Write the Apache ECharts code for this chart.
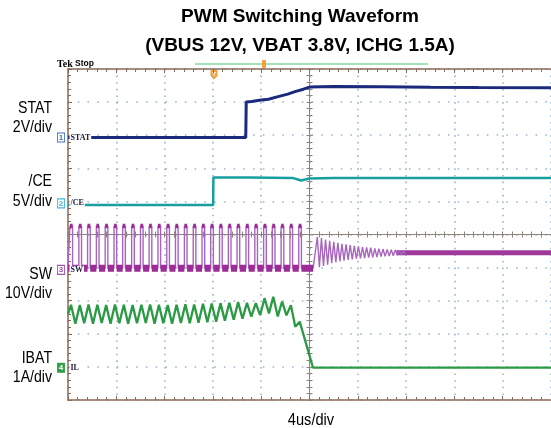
<!DOCTYPE html>
<html>
<head>
<meta charset="utf-8">
<script src="https://cdn.jsdelivr.net/npm/echarts/dist/echarts.min.js"></script>
<style>html,body{margin:0;padding:0;background:#fff}#c{width:551px;height:428px}</style>
</head>
<body>
<div id="c"></div>
<script>
// ---- Channel scales (ground position in divisions from bottom, units per division) ----
const channelGroundDiv = [7.93, 5.94, 3.93, 0.976];   // STAT, /CE, SW, IBAT
const channelPerDiv = [2, 5, 10, 1];                  // 2V, 5V, 10V, 1A per div

// ---- STAT (V) ----
const statTimes = [0, 14.72, 14.76, 15.2, 16.0, 16.6, 17.4, 18.2, 18.8, 19.5, 20.0, 22, 26, 30, 34, 40];
const statVolts = [0, 0, 2.14, 2.18, 2.27, 2.31, 2.47, 2.62, 2.77, 2.92, 3.05, 3.08, 3.07, 3.04, 3.02, 3.0];

// ---- /CE (V) ----
const ceTimes = [0, 12.02, 12.04, 15.0, 18.6, 19.3, 20.0, 22.0, 30.0, 40];
const ceVolts = [-0.25, -0.25, 3.9, 3.9, 3.85, 3.45, 3.75, 3.85, 3.85, 3.85];

// ---- SW (V) ----
const swRise = [0.16,0.90,1.62,2.35,3.08,3.81,4.53,5.27,6.00,6.72,7.45,8.18,8.90,9.64,10.37,11.10,11.82,12.55,13.28,14.00,14.74,15.47,16.20,16.92,17.65,18.38,19.11];
const swFall = [0.38,1.12,1.84,2.57,3.30,4.03,4.75,5.49,6.22,6.94,7.67,8.40,9.12,9.86,10.59,11.32,12.04,12.77,13.50,14.22,14.96,15.69,16.42,17.14,17.87,18.60,19.33];
const swLow = 0.5;
const swHigh = 13.3;
const swLowEnd = 20.3;
const ringPeakTimes = [20.65,20.99,21.33,21.67,22.01,22.35,22.69,23.03,23.37,23.71,24.05,24.39,24.73,25.07,25.41,25.75,26.09,26.43,26.77,27.11,27.45,27.79];
const ringPeakVolts = [10.0,9.6,9.2,8.8,8.5,8.2,7.9,7.7,7.5,7.3,7.1,6.9,6.8,6.7,6.5,6.4,6.3,6.2,6.1,6.0,5.9,5.8];
const ringValleyTimes = [20.82,21.16,21.50,21.84,22.18,22.52,22.86,23.20,23.54,23.88,24.22,24.56,24.90,25.24,25.58,25.92,26.26,26.60,26.94,27.28,27.62,27.96];
const ringValleyVolts = [0.8,1.2,1.6,2.0,2.3,2.6,2.8,3.0,3.2,3.4,3.5,3.6,3.7,3.8,3.9,4.0,4.1,4.2,4.3,4.4,4.5,4.6];
const swSettleTimes = [27.2, 40];
const swSettleVolts = [5.2, 5.2];

// ---- IBAT (A) ----
const ibatTimes = [0, 0.25,0.61, 0.98,1.34, 1.70,2.07, 2.43,2.79, 3.16,3.52, 3.89,4.25, 4.62,4.98, 5.35,5.71, 6.08,6.44, 6.80,7.17, 7.53,7.89, 8.26,8.62, 8.99,9.35, 9.72,10.08, 10.45,10.81, 11.18,11.54, 11.90,12.27, 12.63,12.99, 13.36,13.72, 14.09,14.45, 14.82,15.18, 15.55,15.91, 16.28,16.64, 17.00,17.37, 17.73,18.09, 18.46,18.82, 19.19, 20.29, 40];
const ibatAmps = [1.62, 1.90,1.33, 1.89,1.34, 1.91,1.33, 1.90,1.35, 1.89,1.33, 1.91,1.34, 1.90,1.33, 1.89,1.34, 1.90,1.35, 1.91,1.33, 1.90,1.34, 1.89,1.33, 1.90,1.35, 1.92,1.34, 1.91,1.36, 1.93,1.37, 1.94,1.39, 1.95,1.42, 1.96,1.45, 1.98,1.48, 1.96,1.54, 1.95,1.59, 2.10,1.64, 2.14,1.55, 2.00,1.58, 1.89,1.24, 1.39, 0.0, 0.0];

// ---- Text ----
const titleLines = ['PWM Switching Waveform', '(VBUS 12V, VBAT 3.8V, ICHG 1.5A)'];
const channelNames = ['STAT', '/CE', 'SW', 'IBAT'];
const channelScales = ['2V/div', '5V/div', '10V/div', '1A/div'];
const channelTags = ['STAT', '/CE', 'SW', 'IL'];
const timeScale = '4us/div';

// ---- Build ----
const zip = (a, b) => a.map((t, i) => [t, b[i]]);
const statData = zip(statTimes, statVolts);
const ceData = zip(ceTimes, ceVolts);
const ibatData = zip(ibatTimes, ibatAmps);

const swPath = [[0, swLow]];
swRise.forEach((r, i) => { swPath.push([r, swLow], [r, swHigh], [swFall[i], swHigh], [swFall[i], swLow]); });
swPath.push([swLowEnd, swLow]);
ringPeakTimes.forEach((t, i) => { swPath.push([t, ringPeakVolts[i]], [ringValleyTimes[i], ringValleyVolts[i]]); });

const swLowBand = [[0, swLow]];
swRise.forEach((r, i) => {
  swLowBand.push([r, swLow], [r, '-'], [swFall[i], swLow]);
});
swLowBand.push([swLowEnd, swLow]);
const swTopBand = [];
swRise.forEach((r, i) => { swTopBand.push([r, swHigh], [swFall[i], swHigh], [swFall[i], '-']); });
const swSettleBand = zip(swSettleTimes, swSettleVolts);

const frameColor = '#8a6a58';
const centerColor = '#8f8479';
const dotColor = '#9cb4cc';
const colors = ['#1b2a7c', '#189f9f', '#9c2c96', '#2b9a44'];
const tagColors = ['#3f74c4', '#3fb8d6', '#a24fb2', '#2fa046'];

function markers(i, filled) {
  return {
    silent: true, animation: false,
    data: [
      { coord: [0, 0], symbol: 'rect', symbolSize: [7, 9], symbolOffset: [-7, 0],
        itemStyle: { color: filled ? tagColors[i] : '#fff', borderColor: tagColors[i], borderWidth: 1 },
        label: { show: true, position: 'inside', formatter: String(i + 1), color: filled ? '#fff' : tagColors[i], fontSize: 8, fontWeight: 'bold', fontFamily: 'Liberation Sans' } },
      { coord: [0, 0], symbol: 'rect', symbolSize: 1, itemStyle: { color: 'rgba(0,0,0,0)' },
        label: { show: true, position: 'right', distance: 1, formatter: channelTags[i], color: '#1a1a3a', fontSize: 8, fontWeight: 'bold', fontFamily: 'Liberation Serif', backgroundColor: '#fff', padding: [0, 1] } }
    ]
  };
}

function chanAxis(i) {
  return { type: 'value', gridIndex: 0, show: false,
    min: -channelGroundDiv[i] * channelPerDiv[i], max: (10 - channelGroundDiv[i]) * channelPerDiv[i] };
}

const frameX = (pos, split) => ({
  type: 'value', min: 0, max: 40, interval: 4, position: pos,
  axisLine: { show: true, onZero: false, lineStyle: { color: frameColor, width: 1.5 } },
  axisTick: { show: true, inside: true, length: 4, lineStyle: { color: frameColor } },
  minorTick: { show: true, splitNumber: 5, length: 3, lineStyle: { color: frameColor } },
  axisLabel: { show: false },
  splitLine: { show: split, lineStyle: { color: dotColor, width: 1.6, type: [1.6, 5.02] } },
  minorSplitLine: { show: false }
});
const centerX = (pos) => ({
  type: 'value', min: -20, max: 20, interval: 4, position: pos,
  axisLine: { show: true, onZero: true, onZeroAxisIndex: 1, lineStyle: { color: centerColor, width: 1 } },
  axisTick: { show: true, inside: true, length: 3, lineStyle: { color: centerColor } },
  minorTick: { show: true, splitNumber: 5, length: 3, lineStyle: { color: centerColor } },
  axisLabel: { show: false }, splitLine: { show: false }
});
const centerY = (pos) => ({
  type: 'value', min: -5, max: 5, interval: 1, position: pos,
  axisLine: { show: true, onZero: true, onZeroAxisIndex: 2, lineStyle: { color: centerColor, width: 1 } },
  axisTick: { show: true, inside: true, length: 3, lineStyle: { color: centerColor } },
  minorTick: { show: true, splitNumber: 5, length: 3, lineStyle: { color: centerColor } },
  axisLabel: { show: false }, splitLine: { show: false }
});

const labelFont = '17px "Liberation Sans", Arial, sans-serif';
const labelY = [[108, 127.5], [181.5, 201.5], [274, 293.5], [358, 377]];
const graphics = [];
function txt(x, y, text, font, align, sx) {
  return { type: 'text', x: x, y: y, scaleX: sx || 1, scaleY: 1,
    style: { x: 0, y: 0, text: text, font: font, fill: '#000', align: align, verticalAlign: 'middle', textAlign: align, textVerticalAlign: 'middle' } };
}
titleLines.forEach((t, i) => graphics.push(txt(300, 17 + i * 29, t, 'bold 19px "Liberation Sans", Arial, sans-serif', 'center', 1)));
channelNames.forEach((n, i) => {
  [n, channelScales[i]].forEach((t, j) => graphics.push(txt(52, labelY[i][j], t, labelFont, 'right', 0.83)));
});
graphics.push(txt(311, 420, timeScale, labelFont, 'center', 0.86));
graphics.push(txt(57, 64, 'Tek', 'bold 10px "Liberation Serif", serif', 'left', 1));
graphics.push(txt(75, 64, 'Stop', 'bold 8.5px "Liberation Sans", sans-serif', 'left', 1));
graphics.push({ type: 'line', shape: { x1: 195, y1: 64, x2: 428, y2: 64 }, style: { stroke: '#86d9a6', lineWidth: 1.5 } });
graphics.push({ type: 'rect', shape: { x: 262, y: 60, width: 4, height: 8, r: 1 }, style: { fill: '#f2a23a' } });
graphics.push({ type: 'polygon', shape: { points: [[210.5, 70], [217.5, 70], [217.5, 76], [214, 79.5], [210.5, 76]] }, style: { fill: '#f2a23a' } });
graphics.push({ type: 'text', x: 214, y: 74, style: { text: 'T', font: 'bold 6px sans-serif', fill: '#fff', align: 'center', verticalAlign: 'middle', textAlign: 'center', textVerticalAlign: 'middle' } });

const chart = echarts.init(document.getElementById('c'), null, { renderer: 'canvas' });
chart.setOption({
  animation: false,
  backgroundColor: '#fff',
  grid: { left: 68, top: 69, width: 487, height: 331, show: false },
  xAxis: [frameX('bottom', true), frameX('top', false), centerX('bottom'), centerX('top')],
  yAxis: [
    { type: 'value', min: 0, max: 10, interval: 1, position: 'left',
      axisLine: { show: true, onZero: false, lineStyle: { color: frameColor, width: 1.5 } },
      axisTick: { show: true, inside: true, length: 4, lineStyle: { color: frameColor } },
      minorTick: { show: true, splitNumber: 5, length: 3, lineStyle: { color: frameColor } },
      axisLabel: { show: false },
      splitLine: { show: true, lineStyle: { color: dotColor, width: 1.6, type: [1.6, 8.14] } } },
    centerY('left'), centerY('right'),
    chanAxis(0), chanAxis(1), chanAxis(2), chanAxis(3)
  ],
  series: [
    { name: 'STAT', type: 'line', xAxisIndex: 0, yAxisIndex: 3, data: statData, showSymbol: false, silent: true,
      lineStyle: { color: colors[0], width: 3 }, markPoint: markers(0, false) },
    { name: '/CE', type: 'line', xAxisIndex: 0, yAxisIndex: 4, data: ceData, showSymbol: false, silent: true,
      lineStyle: { color: colors[1], width: 2.5 }, markPoint: markers(1, false) },
    { name: 'SW settle', type: 'line', xAxisIndex: 0, yAxisIndex: 5, data: swSettleBand, showSymbol: false, silent: true,
      lineStyle: { color: '#a0389c', width: 5 } },
    { name: 'SW', type: 'line', xAxisIndex: 0, yAxisIndex: 5, data: swPath, showSymbol: false, silent: true,
      lineStyle: { color: '#a865bd', width: 1.4 } },
    { name: 'SW low', type: 'line', xAxisIndex: 0, yAxisIndex: 5, data: swLowBand, showSymbol: false, silent: true, connectNulls: false,
      lineStyle: { color: colors[2], width: 7 } },
    { name: 'SW top', type: 'line', xAxisIndex: 0, yAxisIndex: 5, data: swTopBand, showSymbol: false, silent: true, connectNulls: false,
      lineStyle: { color: colors[2], width: 4.5 }, markPoint: markers(2, false) },
    { name: 'IBAT', type: 'line', xAxisIndex: 0, yAxisIndex: 6, data: ibatData, showSymbol: false, silent: true,
      lineStyle: { color: colors[3], width: 2.3 }, markPoint: markers(3, true) }
  ],
  graphic: graphics
});
</script>
</body>
</html>
